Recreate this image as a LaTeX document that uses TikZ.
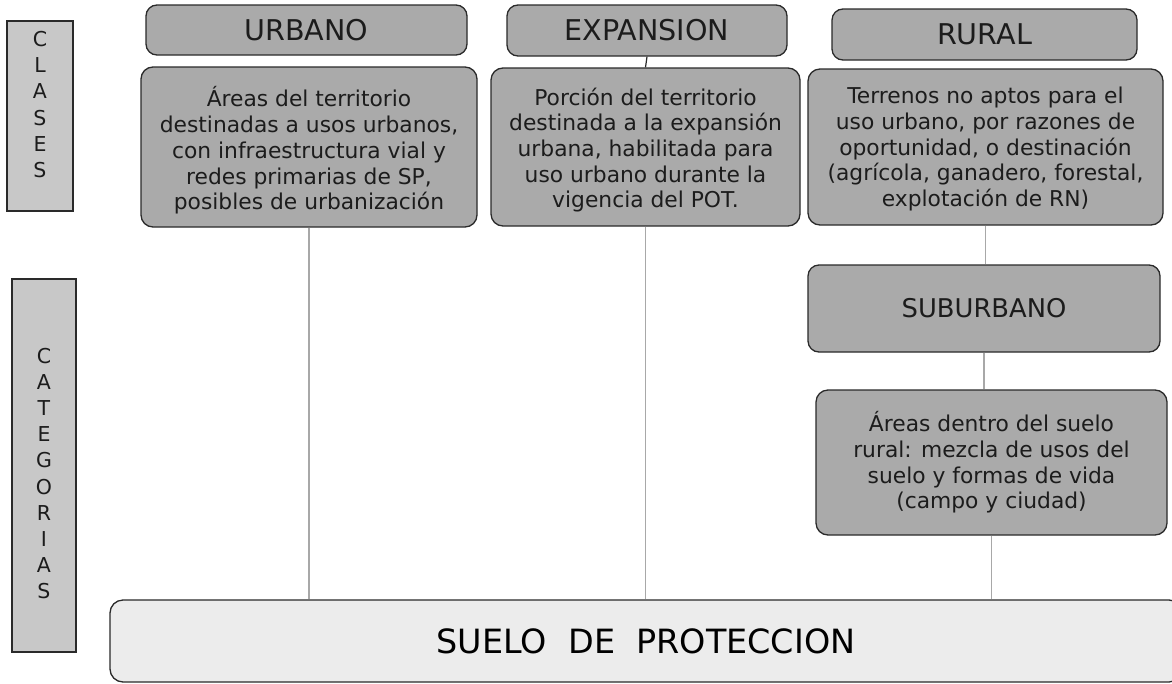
\documentclass[tikz,border=0pt]{standalone}
\usepackage{fontspec}
\setmainfont{DejaVu Sans}
\definecolor{boxfill}{HTML}{AAAAAA}
\definecolor{labfill}{HTML}{C8C8C8}
\definecolor{basefill}{HTML}{ECECEC}
\definecolor{edge}{HTML}{2A2A2A}
\definecolor{txt}{HTML}{1C1C1C}
\definecolor{conn}{HTML}{A8A8A8}
\begin{document}
\begin{tikzpicture}[x=1pt,y=-1pt,
  headbox/.style={draw=edge, line width=1.3pt, fill=boxfill, rounded corners=11pt,
    inner sep=0pt, text=txt, font=\fontsize{28.6}{32}\selectfont},
  descbox/.style={draw=edge, line width=1.3pt, fill=boxfill, rounded corners=12pt,
    inner sep=0pt},
  desctext/.style={inner sep=0pt, align=center, text=txt, font=\fontsize{21.8}{25.7}\selectfont},
  labbox/.style={draw=edge, line width=1.3pt, fill=labfill, inner sep=0pt},
  labtext/.style={inner sep=0pt, align=center, text=txt, font=\fontsize{20.5}{26.2}\selectfont},
  basebox/.style={draw=edge, line width=1.3pt, fill=basefill, rounded corners=13pt,
    inner sep=0pt, text=black, font=\fontsize{33.4}{38}\selectfont},
  link/.style={draw=conn, line width=1.3pt},
  tick/.style={draw=edge, line width=1.2pt}]
\clip (0,0) rectangle (1172,683);
\fill[white] (0,0) rectangle (1172,683);

% left labels
\node[labbox, minimum width=66pt, minimum height=190pt] (clases) at (40,116) {};
\node[labtext] (clasestxt) at ([yshift=11.5pt]clases.center) {C\\L\\A\\S\\E\\S};
\node[labbox, minimum width=64pt, minimum height=373pt] (cat) at (44,465.5) {};
\node[labtext] (cattxt) at ([yshift=-8pt]cat.center) {C\\A\\T\\E\\G\\O\\R\\I\\A\\S};

% headers
\node[headbox, minimum width=321pt, minimum height=50pt] (uhead) at (306.5,30) {URBANO};
\node[headbox, minimum width=280pt, minimum height=51pt] (ehead) at (647,30.5) {EXPANSION};
\node[headbox, minimum width=305pt, minimum height=51pt] (rhead) at (984.5,34.5) {RURAL};

% descriptions
\node[descbox, minimum width=336pt, minimum height=160pt] (udesc) at (309,147) {};
\node[desctext] (udesctxt) at ([yshift=-3.5pt]udesc.center)
  {Áreas del territorio\\destinadas a usos urbanos,\\con infraestructura vial y\\redes primarias de SP,\\posibles de urbanización};
\node[descbox, minimum width=309pt, minimum height=158pt] (edesc) at (645.5,147) {};
\node[desctext] (edesctxt) at ([yshift=-3pt]edesc.center)
  {Porción del territorio\\destinada a la expansión\\urbana, habilitada para\\uso urbano durante la\\vigencia del POT.};
\node[descbox, minimum width=355pt, minimum height=156pt] (rdesc) at (985.5,147) {};
\node[desctext] (rdesctxt) at ([yshift=-2pt]rdesc.center)
  {Terrenos no aptos para el\\uso urbano, por razones de\\oportunidad, o destinación\\(agrícola, ganadero, forestal,\\explotación de RN)};

% suburbano
\node[headbox, font=\fontsize{25.8}{30}\selectfont, minimum width=352pt, minimum height=87pt] (sub) at (984,308.5) {SUBURBANO};
\node[descbox, minimum width=351pt, minimum height=145pt] (sdesc) at (991.5,462.5) {};
\node[desctext] (sdesctxt) at (sdesc.center)
  {Áreas dentro del suelo\\rural: mezcla de usos del\\suelo y formas de vida\\(campo y ciudad)};

% base
\node[basebox, minimum width=1072pt, minimum height=82pt] (suelo) at (646,641)
  {SUELO\ \ DE\ \ PROTECCION};

% connectors
\draw[tick] (ehead.south) -- (edesc.north);
\draw[link] (udesc.south) -- (udesc.south |- suelo.north);
\draw[link] (edesc.south) -- (edesc.south |- suelo.north);
\draw[link] (rdesc.south) -- (rdesc.south |- sub.north);
\draw[link] (sub.south) -- (sub.south |- sdesc.north);
\draw[link] (sdesc.south) -- (sdesc.south |- suelo.north);
\end{tikzpicture}
\end{document}
